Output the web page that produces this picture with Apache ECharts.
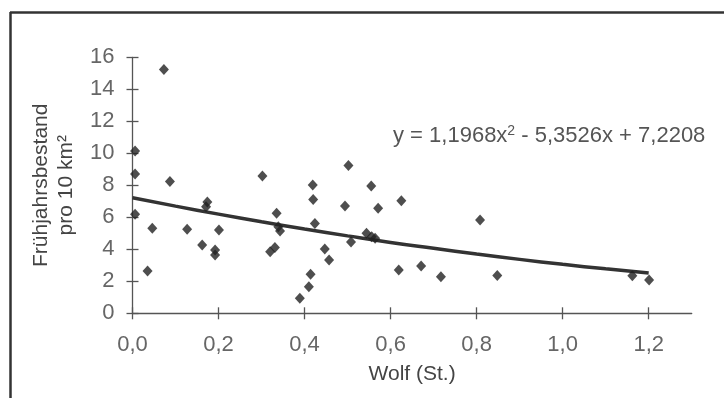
<!DOCTYPE html>
<html>
<head>
<meta charset="utf-8">
<script src="https://cdn.jsdelivr.net/npm/echarts@6/dist/echarts.min.js"></script>
<style>
html,body{margin:0;padding:0;background:#fff;}
#c{width:724px;height:398px;}
</style>
</head>
<body>
<div id="c"></div>
<script>
// Observed points: Wolf (St.) vs. Frühjahrsbestand pro 10 km²
var wolfX = [0.006,0.006,0.006,0.073,0.087,0.046,0.035,0.127,0.162,0.174,0.171,0.192,0.192,0.201,
  0.302,0.335,0.320,0.331,0.339,0.343,0.389,0.410,0.414,0.419,0.420,0.424,0.447,0.457,
  0.502,0.494,0.508,0.544,0.556,0.564,0.555,0.571,0.619,0.625,0.671,0.717,0.808,0.848,1.162,1.201];
var bestandY = [10.15,8.70,6.19,15.23,8.23,5.31,2.64,5.25,4.27,6.96,6.66,3.96,3.64,5.21,
  8.58,6.25,3.85,4.12,5.41,5.14,0.94,1.66,2.44,8.02,7.12,5.62,4.02,3.33,
  9.23,6.71,4.46,5.00,4.79,4.69,7.96,6.56,2.71,7.04,2.96,2.29,5.83,2.37,2.35,2.08];
// Trend line
var trendX = [0,0.1,0.2,0.3,0.4,0.5,0.6,0.7,0.8,0.9,1.0,1.1,1.2];
var trendY = [7.22,6.70,6.20,5.72,5.27,4.84,4.43,4.06,3.70,3.37,3.06,2.78,2.52];
var xTicks = ['0,0','0,2','0,4','0,6','0,8','1,0','1,2'];
var yTicks = [0,2,4,6,8,10,12,14,16];

var pts = wolfX.map(function(x,i){return [x,bestandY[i]];});
var trend = trendX.map(function(x,i){return [x,trendY[i]];});

var font = 'Liberation Sans, Arial, sans-serif';
var chart = echarts.init(document.getElementById('c'));
chart.setOption({
  animation:false,
  backgroundColor:'#fff',
  grid:{left:132.5,right:32.3,top:57.3,bottom:84.7},
  xAxis:[{
    type:'value',min:0,max:1.3,interval:0.2,
    name:'Wolf (St.)',nameLocation:'middle',nameGap:50,
    nameTextStyle:{fontFamily:font,fontSize:21,color:'#444'},
    axisLine:{lineStyle:{color:'#555',width:1.3}},
    axisTick:{show:true,length:6,lineStyle:{color:'#555',width:1.3},customValues:[0,0.2,0.4,0.6,0.8,1.0,1.2]},
    axisLabel:{fontFamily:font,fontSize:22,color:'#666',margin:21,
      customValues:[0,0.2,0.4,0.6,0.8,1.0,1.2],
      formatter:function(v){var i=Math.round(v/0.2);return (Math.abs(v-i*0.2)<1e-6&&i<xTicks.length)?xTicks[i]:'';}},
    splitLine:{show:false}
  },{
    type:'value',min:0,max:1.3,position:'bottom',
    axisLine:{show:false},
    axisTick:{show:true,inside:true,length:6,lineStyle:{color:'#555',width:1.3},customValues:[0,0.2,0.4,0.6,0.8,1.0,1.2]},
    axisLabel:{show:false},splitLine:{show:false}
  }],
  yAxis:[{
    type:'value',min:0,max:16,interval:2,
    name:'Frühjahrsbestand\npro 10 km²',nameLocation:'middle',nameGap:54,nameRotate:90,
    nameTextStyle:{fontFamily:font,fontSize:21,color:'#444',lineHeight:25},
    axisLine:{show:true,lineStyle:{color:'#555',width:1.3}},
    axisTick:{show:true,length:6,lineStyle:{color:'#555',width:1.3}},
    axisLabel:{fontFamily:font,fontSize:22,color:'#666',margin:18,
      formatter:function(v){return yTicks.indexOf(v)>=0?String(v):'';}},
    splitLine:{show:false}
  },{
    type:'value',min:0,max:16,interval:2,position:'left',
    axisLine:{show:false},
    axisTick:{show:true,inside:true,length:6,lineStyle:{color:'#555',width:1.3}},
    axisLabel:{show:false},splitLine:{show:false}
  }],
  series:[{
    type:'line',data:trend,smooth:true,showSymbol:false,
    lineStyle:{color:'#333',width:3.5},z:2
  },{
    type:'scatter',data:pts,symbol:'diamond',symbolSize:[10,11],
    itemStyle:{color:'#222'},z:3
  }],
  graphic:[
    {type:'line',shape:{x1:10.5,y1:12,x2:10.5,y2:398},style:{stroke:'#333',lineWidth:2.5}},
    {type:'line',shape:{x1:10,y1:12.5,x2:724,y2:12.5},style:{stroke:'#333',lineWidth:2.5}},
    {type:'text',left:393,top:124,style:{
      text:'{a|y = 1,1968x}{s|2}{a| - 5,3526x + 7,2208}',
      rich:{a:{fontFamily:font,fontSize:22,fill:'#555'},s:{fontFamily:font,fontSize:14,fill:'#555',verticalAlign:'top',padding:[0,0,10,0]}}
    }}
  ]
});
</script>
</body>
</html>
